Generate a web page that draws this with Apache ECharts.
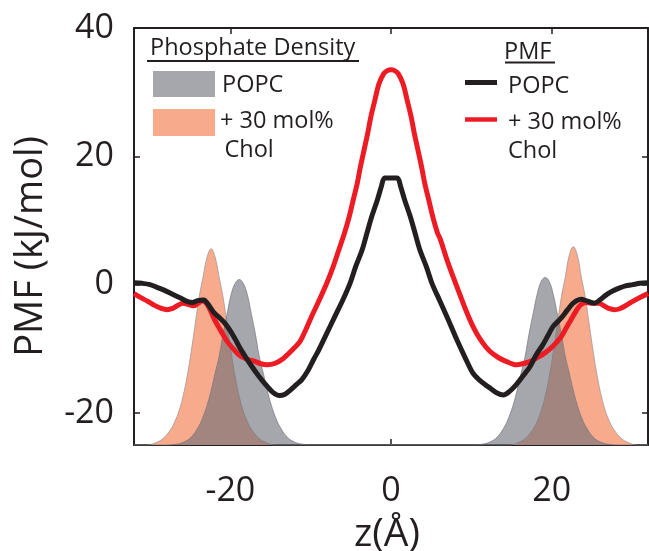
<!DOCTYPE html>
<html><head><meta charset="utf-8">
<script src="https://cdn.jsdelivr.net/npm/echarts@6/dist/echarts.min.js"></script>
<style>html,body{margin:0;padding:0;background:#fff}#c{width:649px;height:551px}</style>
</head><body><div id="c"></div><script>
// tick labels
const xTicks = [-20, 0, 20];
const yTicks = [-20, 0, 20, 40];

// Phosphate density (drawn in PMF units, filled from the bottom of the axis)
const densPopcZ = [-32, -27.9, -26.9, -25.9, -24.9, -23.9, -23.4, -22.9, -22.4, -21.9, -21.4, -20.9, -20.4, -19.9, -19.4, -18.9, -18.4, -17.9, -17.4, -16.9, -16.4, -15.9, -15.4, -14.9, -14.4, -13.9, -12.9, -11.9, -10.9, -9.9,
  10.2, 11.2, 12.2, 13.2, 14.2, 14.7, 15.2, 15.7, 16.2, 16.7, 17.2, 17.7, 18.2, 18.7, 19.2, 19.7, 20.2, 20.7, 21.2, 21.7, 22.2, 22.7, 23.2, 23.7, 24.2, 25.2, 26.2, 27.2, 28.2, 32];
const densPopcV = [-25, -25, -24.9, -24.6, -23.8, -22.0, -20.6, -18.8, -16.5, -13.8, -11.2, -7.6, -4.5, -1.5, 0.2, 0.8, 0.2, -1.5, -4.5, -7.6, -11.2, -13.8, -16.5, -18.8, -20.6, -22.0, -23.8, -24.6, -24.9, -25,
  -25, -24.9, -24.6, -23.8, -22.0, -20.6, -18.8, -16.5, -13.8, -11.2, -7.6, -4.5, -1.5, 0.5, 1.1, 0.5, -1.5, -4.5, -7.6, -11.2, -13.8, -16.5, -18.8, -20.6, -22.0, -23.8, -24.6, -24.9, -25, -25];

const densCholZ = [-32, -30.4, -29.4, -28.4, -27.4, -26.9, -26.4, -25.9, -25.4, -24.9, -24.4, -23.9, -23.4, -22.9, -22.4, -21.9, -21.4, -20.9, -20.4, -19.9, -19.4, -18.9, -18.4, -17.9, -17.4, -16.4, -15.4, -14.4,
  14.7, 15.7, 16.7, 17.7, 18.2, 18.7, 19.2, 19.7, 20.2, 20.7, 21.2, 21.7, 22.2, 22.7, 23.2, 23.7, 24.2, 24.7, 25.2, 25.7, 26.2, 26.7, 27.2, 27.7, 28.7, 29.7, 30.7, 32];
const densCholV = [-25, -25, -24.7, -24.0, -22.5, -21.3, -19.7, -17.4, -14.4, -10.6, -6.3, -2.0, 1.2, 4.3, 5.6, 4.3, 1.2, -2.0, -6.3, -10.6, -14.4, -17.4, -19.7, -21.3, -22.5, -24.0, -24.7, -25,
  -25, -24.7, -24.0, -22.5, -21.3, -19.7, -17.4, -14.4, -10.6, -6.3, -2.0, 1.2, 4.6, 5.9, 4.6, 1.2, -2.0, -6.3, -10.6, -14.4, -17.4, -19.7, -21.3, -22.5, -24.0, -24.7, -25, -25];

// PMF curves (kJ/mol)
const pmfPopcZ = [-32, -31, -30, -29.2, -28.2, -27.2, -26.2, -25.4, -24.7, -24.1, -23.3, -22.7, -22.1, -21.4, -20.7, -20.0, -19.4, -18.8, -18.1, -17.3, -16.5, -15.6, -14.7, -13.9, -13.2, -12.5, -11.8, -11.1, -10.3, -9.6, -9.0, -8.0, -7.0, -6.0, -5.1, -4.4, -3.6, -3.0, -2.4, -1.7, -1.2, -0.8, 0, 0.8,
  1.2, 1.7, 2.4, 3.0, 3.6, 4.4, 5.1, 6.1, 7.1, 8.2, 9.2, 10.2, 11.2, 12.3, 13.2, 14.0, 14.8, 15.6, 16.4, 17.3, 18.1, 18.9, 19.6, 20.2, 21.2, 22.0, 22.6, 23.1, 23.7, 24.3, 25.3, 26.0, 26.8, 27.6, 28.4, 29.2, 30.1, 31, 32];
const pmfPopcV = [0.3, 0.2, 0.0, -0.4, -0.9, -1.5, -2.1, -2.6, -2.8, -2.5, -2.4, -3.2, -4.3, -5.1, -6.0, -7.2, -8.5, -9.9, -11.3, -12.8, -14.2, -15.6, -16.8, -17.3, -17.1, -16.4, -15.6, -14.8, -13.3, -11.6, -10.2, -7.6, -5.0, -2.4, 0.2, 2.8, 5.4, 8.0, 10.6, 13.2, 15.3, 16.6, 16.6, 16.6,
  15.3, 13.2, 10.6, 8.0, 5.4, 2.8, 0.2, -2.6, -5.4, -8.6, -11.3, -13.8, -15.1, -16.1, -16.9, -17.2, -16.6, -15.6, -14.3, -12.8, -10.9, -9.4, -7.8, -6.5, -5.2, -3.9, -3.0, -2.5, -2.3, -2.5, -2.9, -2.4, -1.6, -1.0, -0.55, -0.2, 0.0, 0.2, 0.3];

const pmfCholZ = [-32, -31.2, -30.3, -29.5, -28.6, -27.9, -27.2, -26.5, -25.9, -25.2, -24.5, -24.0, -23.5, -23.0, -22.5, -22.0, -21.0, -20.3, -19.5, -18.8, -18.0, -17.1, -16.3, -15.4, -14.5, -13.4, -12.3, -11.3, -10.6, -9.9, -9.0, -8.0, -7.2, -6.5, -5.8, -5.2, -4.7, -4.2, -3.8, -3.35, -2.9, -2.5, -2.0, -1.5, -0.9, -0.4, 0,
  0.4, 0.9, 1.5, 2.0, 2.5, 2.9, 3.35, 3.8, 4.2, 4.7, 5.2, 5.8, 6.1, 7.1, 8.2, 9.2, 10.2, 11.2, 12.3, 13.4, 14.4, 15.6, 16.5, 17.3, 18.5, 19.2, 19.9, 20.6, 21.2, 21.8, 22.4, 23.0, 23.5, 24.2, 24.9, 25.9, 26.5, 27.1, 27.8, 28.4, 29.2, 30.1, 31.0, 32];
const pmfCholV = [-1.4, -2.0, -2.6, -3.2, -3.7, -3.9, -3.7, -3.2, -2.9, -3.1, -3.3, -2.9, -2.5, -2.9, -4.0, -5.4, -7.6, -9.0, -10.2, -11.1, -11.6, -11.9, -12.3, -12.5, -12.3, -11.5, -10.2, -8.8, -7.0, -5.0, -2.6, 0.2, 2.8, 5.4, 8.0, 10.6, 13.2, 15.8, 18.4, 21.0, 23.6, 26.2, 28.8, 31.3, 32.9, 33.4, 33.5,
  33.4, 32.9, 31.3, 28.8, 26.2, 23.6, 21.0, 18.4, 15.8, 13.2, 10.6, 8.0, 7.2, 3.4, -0.3, -3.6, -6.5, -8.7, -10.4, -11.4, -12.0, -12.5, -12.3, -12.0, -11.2, -10.6, -9.9, -9.0, -8.1, -6.8, -5.5, -4.2, -3.3, -2.8, -2.9, -2.9, -3.3, -3.7, -3.9, -3.8, -3.3, -2.6, -2.0, -1.4];

const pair = (zs, vs) => zs.map((z, i) => [z, vs[i]]);

const INK = '#231f20';
const FONT = '"Open Sans", sans-serif';
const RED = '#ed1c24';
const GRAY_FILL = 'rgba(105,108,117,0.6)';
const ORANGE_FILL = '#f7aa8c';

const chart = echarts.init(document.getElementById('c'), null, {renderer: 'canvas'});

const axisCommon = {
  type: 'value',
  splitLine: {show: false},
  axisLine: {show: true, onZero: false, lineStyle: {color: INK, width: 2}},
  axisTick: {show: true, inside: true, length: 6, lineStyle: {color: INK, width: 1.5}}
};

chart.setOption({
  animation: false,
  backgroundColor: '#fff',
  grid: {left: 134, right: 1, top: 28, bottom: 106, containLabel: false},
  xAxis: [
    Object.assign({}, axisCommon, {
      position: 'bottom', min: -32, max: 32,
      axisTick: Object.assign({}, axisCommon.axisTick, {customValues: xTicks}),
      axisLabel: {customValues: xTicks, fontSize: 34, fontFamily: FONT, color: INK, margin: 29}
    }),
    Object.assign({}, axisCommon, {
      position: 'top', min: -32, max: 32,
      axisTick: Object.assign({}, axisCommon.axisTick, {customValues: xTicks}),
      axisLabel: {show: false}
    })
  ],
  yAxis: [
    Object.assign({}, axisCommon, {
      position: 'left', min: -25, max: 40,
      axisTick: Object.assign({}, axisCommon.axisTick, {customValues: yTicks}),
      axisLabel: {customValues: yTicks, fontSize: 34, fontFamily: FONT, color: INK, margin: 20, padding: [3, 0, 0, 0]}
    }),
    Object.assign({}, axisCommon, {
      position: 'right', min: -25, max: 40,
      axisTick: Object.assign({}, axisCommon.axisTick, {customValues: yTicks}),
      axisLabel: {show: false}
    })
  ],
  series: [
    {
      name: 'Chol density', type: 'line', data: pair(densCholZ, densCholV),
      smooth: 0.4, symbol: 'none', z: 1,
      lineStyle: {color: 'rgba(150,150,150,0.7)', width: 1},
      areaStyle: {color: ORANGE_FILL, opacity: 1, origin: 'start'}
    },
    {
      name: 'POPC density', type: 'line', data: pair(densPopcZ, densPopcV),
      smooth: 0.4, symbol: 'none', z: 2,
      lineStyle: {color: 'rgba(120,120,125,0.7)', width: 1},
      areaStyle: {color: GRAY_FILL, opacity: 1, origin: 'start'}
    },
    {
      name: 'PMF Chol', type: 'line', data: pair(pmfCholZ, pmfCholV),
      smooth: 0.3, symbol: 'none', z: 3,
      lineStyle: {color: RED, width: 5}
    },
    {
      name: 'PMF POPC', type: 'line', data: pair(pmfPopcZ, pmfPopcV),
      smooth: 0.3, symbol: 'none', z: 4,
      lineStyle: {color: INK, width: 5}
    }
  ],
  graphic: [
    // axis titles
    {type: 'text', x: 31, y: 246.5, rotation: Math.PI / 2,
      style: {text: 'PMF (kJ/mol)', font: '38px ' + FONT, fill: INK, textAlign: 'center', textVerticalAlign: 'middle'}},
    {type: 'text', x: 387, y: 535,
      style: {text: 'z(Å)', font: '39px ' + FONT, fill: INK, textAlign: 'center', textVerticalAlign: 'middle'}},
    // left legend: phosphate density
    {type: 'text', x: 150, y: 48.3,
      style: {text: 'Phosphate Density', font: '23.5px ' + FONT, fill: INK, textAlign: 'left', textVerticalAlign: 'middle'}},
    {type: 'line', shape: {x1: 147, y1: 61, x2: 359, y2: 61}, style: {stroke: INK, lineWidth: 2}},
    {type: 'rect', shape: {x: 153, y: 71, width: 62, height: 26}, style: {fill: GRAY_FILL}},
    {type: 'text', x: 222, y: 85,
      style: {text: 'POPC', font: '23.5px ' + FONT, fill: INK, textAlign: 'left', textVerticalAlign: 'middle'}},
    {type: 'rect', shape: {x: 153, y: 109, width: 62, height: 27}, style: {fill: ORANGE_FILL}},
    {type: 'text', x: 220, y: 121.3,
      style: {text: '+ 30 mol%', font: '23.5px ' + FONT, fill: INK, textAlign: 'left', textVerticalAlign: 'middle'}},
    {type: 'text', x: 224.5, y: 150.3,
      style: {text: 'Chol', font: '23.5px ' + FONT, fill: INK, textAlign: 'left', textVerticalAlign: 'middle'}},
    // right legend: PMF
    {type: 'text', x: 504, y: 52.6,
      style: {text: 'PMF', font: '23.5px ' + FONT, fill: INK, textAlign: 'left', textVerticalAlign: 'middle'}},
    {type: 'line', shape: {x1: 505, y1: 62.5, x2: 555, y2: 62.5}, style: {stroke: INK, lineWidth: 2}},
    {type: 'line', shape: {x1: 465, y1: 82.5, x2: 497, y2: 82.5}, style: {stroke: INK, lineWidth: 5}},
    {type: 'text', x: 508, y: 86,
      style: {text: 'POPC', font: '23.5px ' + FONT, fill: INK, textAlign: 'left', textVerticalAlign: 'middle'}},
    {type: 'line', shape: {x1: 465, y1: 119.5, x2: 497, y2: 119.5}, style: {stroke: RED, lineWidth: 4.5}},
    {type: 'text', x: 508, y: 122.6,
      style: {text: '+ 30 mol%', font: '23.5px ' + FONT, fill: INK, textAlign: 'left', textVerticalAlign: 'middle'}},
    {type: 'text', x: 508, y: 151.3,
      style: {text: 'Chol', font: '23.5px ' + FONT, fill: INK, textAlign: 'left', textVerticalAlign: 'middle'}}
  ]
});
</script></body></html>
